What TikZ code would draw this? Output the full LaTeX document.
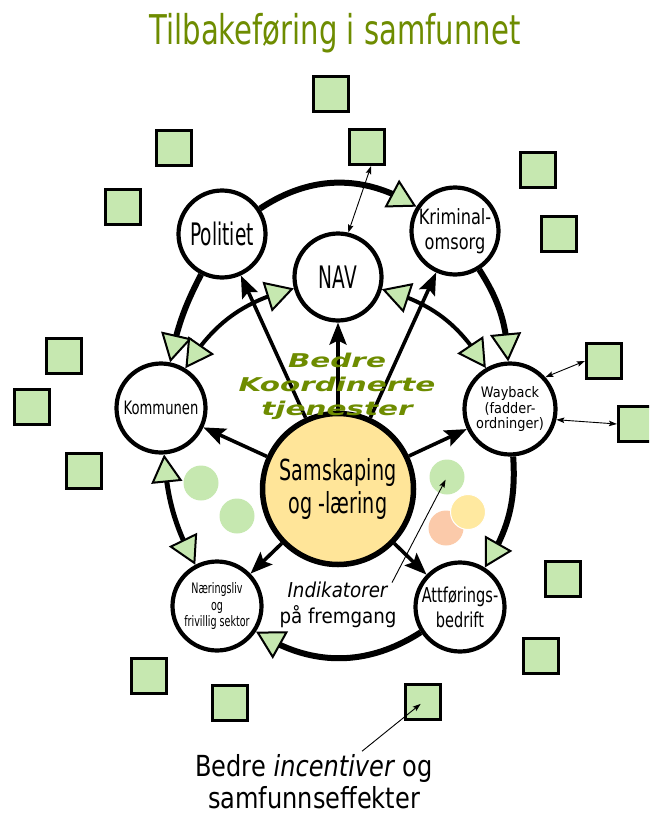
\documentclass[tikz,border=0pt]{standalone}
\usepackage{fontspec}
\setmainfont{DejaVu Sans}
\usetikzlibrary{arrows.meta,bending}
\newfontfamily\fsixty[FakeStretch=0.6]{DejaVu Sans}
\newfontfamily\fsixtysix[FakeStretch=0.66]{DejaVu Sans}
\newfontfamily\fseventy[FakeStretch=0.71]{DejaVu Sans}
\newfontfamily\fseventyseven[FakeStretch=0.77]{DejaVu Sans}
\newfontfamily\feightthree[FakeStretch=0.83]{DejaVu Sans}
\newfontfamily\fninety[FakeStretch=0.89]{DejaVu Sans}
\newfontfamily\fwide[FakeStretch=1.55]{DejaVu Sans}
\definecolor{lgreen}{RGB}{198,232,176}
\definecolor{tgreen}{RGB}{110,140,0}
\definecolor{samfill}{RGB}{255,229,153}
\definecolor{dotyellow}{RGB}{255,233,160}
\definecolor{dotpeach}{RGB}{251,202,170}
\begin{document}
\begin{tikzpicture}[x=1pt,y=1pt,
  circ/.style={circle, draw=black, line width=4.2pt, fill=white, inner sep=0pt, align=center},
  sqbox/.style={draw=black, line width=3.2pt, fill=lgreen, minimum size=35pt, inner sep=0pt},
  dot/.style={circle, fill=#1, inner sep=0pt, minimum size=35pt},
  tri/.tip={Triangle[fill=lgreen, line width=2pt, length=28pt, width=31pt]},
  dk/.tip={Stealth[length=22pt, width=17pt, inset=4pt]},
  sm/.tip={Stealth[length=8pt, width=5.5pt, inset=1.5pt]},
  ring/.style={line width=6pt, -{tri}},
  ringtwo/.style={line width=5pt, {tri}-{tri}},
  innerarc/.style={line width=4pt, {tri}-{tri}},
  spoke/.style={line width=3.6pt, -{dk}},
  thinarr/.style={line width=0.9pt, {sm}-{sm}},
  thinone/.style={line width=0.9pt, -{sm}}
]
\useasboundingbox (0,0) rectangle (649,-816);
\clip (0,0) rectangle (649,-816);

% title
\node[anchor=base, text=tgreen, font={\fseventy\fontsize{41}{45}\selectfont}] (title) at (335,-45) {Tilbakeføring i samfunnet};

% squares
\node[sqbox] (sq1) at (331,-94) {};
\node[sqbox] (sq2) at (367,-147) {};
\node[sqbox] (sq3) at (174,-148) {};
\node[sqbox] (sq4) at (123,-207) {};
\node[sqbox] (sq5) at (538,-170) {};
\node[sqbox] (sq6) at (559,-234) {};
\node[sqbox] (sq7) at (64,-356) {};
\node[sqbox] (sq8) at (32,-407) {};
\node[sqbox] (sq9) at (84,-471) {};
\node[sqbox] (sq10) at (604,-361) {};
\node[sqbox] (sq11) at (636,-424) {};
\node[sqbox] (sq12) at (563,-579) {};
\node[sqbox] (sq13) at (541,-656) {};
\node[sqbox] (sq14) at (149,-676) {};
\node[sqbox] (sq15) at (230,-703) {};
\node[sqbox] (sq16) at (423,-702) {};

% decorative dots
\node[dot=lgreen] (g1) at (201,-483) {};
\node[dot=lgreen] (g2) at (237,-516) {};
\node[dot=lgreen] (g3) at (447,-477) {};
\node[dot=dotpeach] (p1) at (446,-528) {};
\node[dot=dotyellow, draw=white, line width=1pt] (y1) at (468,-512) {};

% main circles
\node[circ, minimum size=87pt, font={\fsixty\fontsize{31}{34}\selectfont}] (pol) at (222,-234) {Politiet};
\node[circ, minimum size=87pt, font={\fsixty\fontsize{31}{34}\selectfont}] (nav) at (338,-277) {NAV};
\node[circ, minimum size=87pt, font={\fseventyseven\fontsize{21}{25}\selectfont}] (kri) at (455,-231) {Kriminal-\\omsorg};
\node[circ, minimum size=89pt, font={\fseventy\fontsize{18.5}{22}\selectfont}] (kom) at (161,-408) {Kommunen};
\node[circ, minimum size=91pt, font={\fninety\fontsize{14.5}{15.5}\selectfont}] (way) at (510,-409) {Wayback\\(fadder-\\ordninger)};
\node[circ, minimum size=151pt, fill=samfill, line width=5.5pt, font={\fsixtysix\fontsize{29}{33}\selectfont}] (sam) at (338,-489) {Samskaping\\og -læring};
\node[circ, minimum size=89pt, font={\fsixtysix\fontsize{14.5}{16.5}\selectfont}] (nar) at (217,-606) {Næringsliv\\og\\frivillig sektor};
\node[circ, minimum size=89pt, font={\fseventy\fontsize{20.5}{25}\selectfont}] (att) at (460,-607) {Attførings-\\bedrift};

% outer ring
\draw[ring] (pol) to[bend left=33] (kri);
\draw[ring] (pol) to[bend right=8] (kom);
\draw[ring] (kri) to[bend left=15] (way);
\draw[ring] (way) to[bend left=18] (att);
\draw[ring] (att) to[bend left=33] (nar);
\draw[ringtwo] (kom) to[bend right=12] (nar);

% inner arcs
\draw[innerarc] (nav) to[bend right=22] (kom);
\draw[innerarc] (nav) to[bend left=22] (way);

% spokes
\draw[spoke] (sam) -- (pol);
\draw[spoke] (sam) -- (nav);
\draw[spoke] (sam) -- (kri);
\draw[spoke] (sam) -- (kom);
\draw[spoke] (sam) -- (way);
\draw[spoke] (sam) -- (nar);
\draw[spoke] (sam) -- (att);

% texts
\node[text=tgreen, align=center, font={\fwide\bfseries\itshape\fontsize{19}{24}\selectfont}] (bk) at (337,-386) {Bedre\\Koordinerte\\tjenester};
\node[align=center, font={\fninety\fontsize{20.5}{26}\selectfont}] (ind) at (338,-605) {\textit{Indikatorer}\\på fremgang};
\node[align=center, font={\feightthree\fontsize{29}{32}\selectfont}] (inc) at (314,-782) {Bedre \textit{incentiver} og\\samfunnseffekter};

% thin arrows
\draw[thinarr] (nav.77) -- ([xshift=4pt]sq2.south);
\draw[thinarr] (way.42) -- (sq10.west);
\draw[thinarr] (way.-13) -- (sq11.west);
\draw[thinone, shorten >=3pt] ([xshift=-8pt,yshift=-4pt]ind.north east) -- (g3.center);
\draw[thinone, shorten >=3pt] ([xshift=48pt]inc.north) -- (sq16.center);
\end{tikzpicture}
\end{document}
